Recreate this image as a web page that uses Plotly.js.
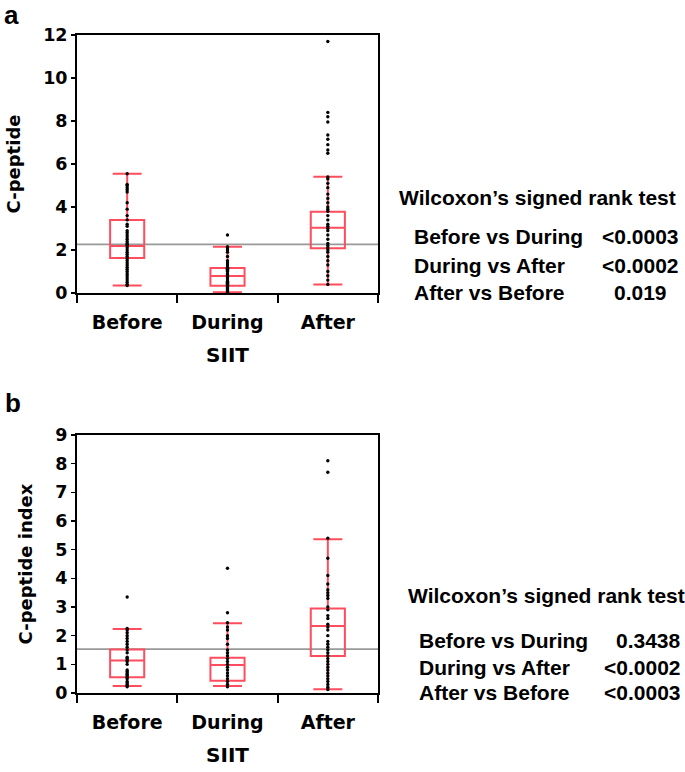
<!DOCTYPE html>
<html>
<head>
<meta charset="utf-8">
<script src="https://cdn.plot.ly/plotly-3.0.1.min.js"></script>
<style>html,body{margin:0;padding:0;background:#fff;}#chart{width:685px;height:772px;}</style>
</head>
<body>
<div id="chart"></div>
<script>
// ---------- data ----------
var categories = ["Before", "During", "After"];

// Panel a: C-peptide box statistics
var aQ1  = [1.63, 0.34, 2.08];
var aMed = [2.19, 0.79, 3.04];
var aQ3  = [3.40, 1.16, 3.78];
var aLo  = [0.35, 0.03, 0.40];
var aHi  = [5.55, 2.15, 5.41];
var aRef = 2.26;

// Panel a: individual values
var aBefore = [0.35, 0.4, 0.5, 0.6, 0.7, 0.8, 0.9, 1.0, 1.1, 1.2, 1.3, 1.4, 1.5, 1.6, 1.7, 1.8, 1.9, 2.0, 2.1, 2.2, 2.25, 2.3, 2.4, 2.5, 2.6, 2.7, 2.8, 2.9, 3.1, 3.2, 3.4, 3.6, 3.9, 4.2, 4.7, 4.8, 4.9, 5.0, 5.05, 5.55];
var aDuring = [0.03, 0.05, 0.1, 0.15, 0.2, 0.25, 0.3, 0.35, 0.4, 0.45, 0.5, 0.55, 0.6, 0.7, 0.75, 0.8, 0.85, 0.9, 1.0, 1.05, 1.1, 1.15, 1.2, 1.3, 1.4, 1.5, 1.7, 1.9, 2.0, 2.1, 2.15, 2.7];
var aAfter  = [0.4, 0.6, 0.8, 1.0, 1.3, 1.5, 1.7, 1.9, 2.0, 2.1, 2.2, 2.3, 2.5, 2.7, 2.9, 3.0, 3.1, 3.2, 3.4, 3.6, 3.8, 3.9, 4.0, 4.2, 4.4, 4.6, 4.9, 5.1, 5.3, 5.4, 6.5, 6.65, 6.9, 7.15, 7.35, 7.95, 8.2, 8.4, 11.7];

// Panel b: C-peptide index box statistics
var bQ1  = [0.55, 0.43, 1.29];
var bMed = [1.13, 0.98, 2.34];
var bQ3  = [1.52, 1.23, 2.95];
var bLo  = [0.24, 0.24, 0.13];
var bHi  = [2.23, 2.43, 5.36];
var bRef = 1.53;

// Panel b: individual values
var bBefore = [0.22, 0.25, 0.3, 0.35, 0.4, 0.5, 0.55, 0.6, 0.65, 0.7, 0.75, 0.8, 1.0, 1.1, 1.15, 1.2, 1.25, 1.4, 1.5, 1.6, 1.7, 1.8, 1.9, 2.0, 2.1, 2.2, 2.25, 3.35];
var bDuring = [0.22, 0.3, 0.4, 0.5, 0.6, 0.7, 0.8, 0.9, 1.0, 1.1, 1.2, 1.3, 1.4, 1.5, 1.7, 1.9, 2.0, 2.2, 2.3, 2.45, 2.8, 4.35];
var bAfter  = [0.12, 0.2, 0.3, 0.4, 0.5, 0.6, 0.7, 0.8, 0.9, 1.0, 1.1, 1.2, 1.3, 1.4, 1.5, 1.6, 1.7, 1.8, 2.0, 2.2, 2.3, 2.4, 2.6, 2.7, 2.9, 3.0, 3.3, 3.4, 3.5, 3.6, 3.8, 4.1, 4.7, 5.4, 7.7, 8.1];

// Test results
var testTitle = "Wilcoxon’s signed rank test";
var comparisons = ["Before vs During", "During vs After", "After vs Before"];
var aPvalues = ["<0.0003", "<0.0002", "0.019"];
var bPvalues = ["0.3438", "<0.0002", "<0.0003"];

// ---------- styling ----------
var RED = "#ff4d5e";
var axisFont = "DejaVu Sans, Verdana, sans-serif";
var textFont = "Liberation Sans, Arial, sans-serif";
var W = 685, H = 772;

function boxTrace(q1, med, q3, lo, hi, xa, ya) {
  return {
    type: "box", x: categories, q1: q1, median: med, q3: q3,
    lowerfence: lo, upperfence: hi, boxpoints: false,
    width: 0.34, whiskerwidth: 0.85,
    line: {color: RED, width: 2}, fillcolor: "rgba(0,0,0,0)",
    xaxis: xa, yaxis: ya, showlegend: false, hoverinfo: "skip"
  };
}
function pointTrace(groups, xa, ya) {
  var xs = [], ys = [];
  groups.forEach(function (g, i) { g.forEach(function (v) { xs.push(categories[i]); ys.push(v); }); });
  return {
    type: "scatter", mode: "markers", x: xs, y: ys,
    marker: {color: "#000", size: 3.4},
    xaxis: xa, yaxis: ya, showlegend: false, hoverinfo: "skip"
  };
}

var traces = [
  boxTrace(aQ1, aMed, aQ3, aLo, aHi, "x", "y"),
  pointTrace([aBefore, aDuring, aAfter], "x", "y"),
  boxTrace(bQ1, bMed, bQ3, bLo, bHi, "x2", "y2"),
  pointTrace([bBefore, bDuring, bAfter], "x2", "y2")
];

function xAxis(domain) {
  return {
    domain: domain, type: "category", categoryarray: categories, range: [-0.5, 2.5],
    showline: true, mirror: true, linecolor: "#000", linewidth: 2,
    ticks: "outside", tickson: "boundaries", ticklen: 8, tickwidth: 2, tickcolor: "#000",
    ticklabelstandoff: 11,
    tickfont: {family: axisFont, size: 19, color: "#000", weight: "bold"},
    showgrid: false, zeroline: false, fixedrange: true,
    title: {text: "SIIT", font: {family: axisFont, size: 20, color: "#000", weight: "bold"}, standoff: 16}
  };
}
function yAxis(domain, range, dtick, title) {
  return {
    domain: domain, range: range, dtick: dtick,
    showline: true, mirror: true, linecolor: "#000", linewidth: 2,
    ticks: "outside", ticklen: 4, tickwidth: 1.5, tickcolor: "#000",
    tickfont: {family: axisFont, size: 17.5, color: "#000", weight: "bold"},
    showgrid: false, zeroline: false, fixedrange: true,
    title: {text: title, font: {family: axisFont, size: 18, color: "#000", weight: "bold"}, standoff: 18}
  };
}

var xd = [77 / W, 378 / W];
var layout = {
  width: W, height: H,
  margin: {l: 0, r: 0, t: 0, b: 0},
  paper_bgcolor: "#fff", plot_bgcolor: "#fff",
  xaxis: Object.assign(xAxis(xd), {anchor: "y"}),
  yaxis: Object.assign(yAxis([1 - 293 / H, 1 - 35 / H], [0, 12], 2, "C-peptide"), {anchor: "x"}),
  xaxis2: Object.assign(xAxis(xd), {anchor: "y2"}),
  yaxis2: Object.assign(yAxis([1 - 693 / H, 1 - 435 / H], [0, 9], 1, "C-peptide index"), {anchor: "x2"}),
  shapes: [
    {type: "line", xref: "x domain", yref: "y", x0: 0, x1: 1, y0: aRef, y1: aRef, line: {color: "#999", width: 1.8}, layer: "below"},
    {type: "line", xref: "x2 domain", yref: "y2", x0: 0, x1: 1, y0: bRef, y1: bRef, line: {color: "#999", width: 1.8}, layer: "below"}
  ],
  annotations: []
};

function ann(text, x, y, xanchor, size) {
  return {text: text, xref: "paper", yref: "paper", x: x / W, y: 1 - y / H,
    xanchor: xanchor, yanchor: "middle", showarrow: false,
    font: {family: textFont, size: size, color: "#000", weight: "bold"}};
}
layout.annotations.push(ann("a", 2, 15, "left", 26));
layout.annotations.push(ann("b", 3, 403, "left", 26));

layout.annotations.push(ann(testTitle, 397, 197, "left", 21));
layout.annotations.push(ann(testTitle, 406, 595, "left", 21));
var aRows = [237, 265, 292], bRows = [640, 667, 692];
comparisons.forEach(function (c, i) {
  layout.annotations.push(ann(c, 412, aRows[i], "left", 21));
  layout.annotations.push(ann(aPvalues[i], 640, aRows[i], "center", 21));
  layout.annotations.push(ann(c, 417, bRows[i], "left", 21));
  layout.annotations.push(ann(bPvalues[i], 683, bRows[i], "right", 21));
});

Plotly.newPlot("chart", traces, layout, {staticPlot: true, displayModeBar: false});
</script>
</body>
</html>
